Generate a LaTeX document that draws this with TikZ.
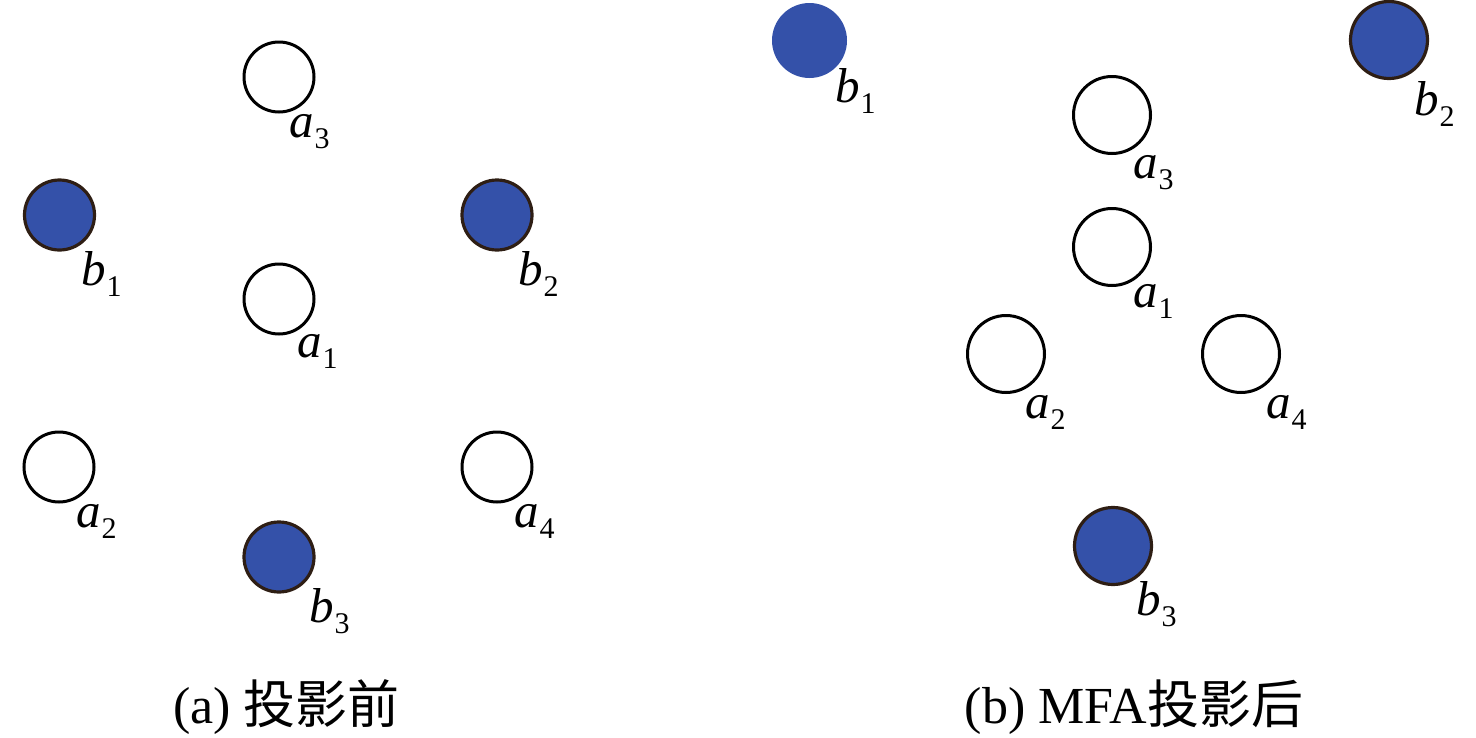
\documentclass[tikz,border=0pt]{standalone}
\usepackage{fontspec}
\setmainfont{Liberation Serif}
\newfontfamily\cjk{Noto Sans CJK SC}
\definecolor{dotblue}{HTML}{3451A9}
\definecolor{rimbrown}{HTML}{2E1E14}
\newcommand\ptlabel[2]{{\fontsize{49}{49}\selectfont\textit{#1}}\kern1pt\raisebox{-11pt}{\fontsize{30}{30}\selectfont #2}}
\tikzset{
  opensmall/.style={circle,draw=black,line width=3pt,fill=white,minimum size=70pt,inner sep=0pt},
  bluesmall/.style={circle,draw=rimbrown,line width=3.2pt,fill=dotblue,minimum size=70pt,inner sep=0pt},
  openbig/.style={circle,draw=black,line width=3pt,fill=white,minimum size=77pt,inner sep=0pt},
  bluebig/.style={circle,draw=rimbrown,line width=3.2pt,fill=dotblue,minimum size=77pt,inner sep=0pt},
  bluebare/.style={circle,fill=dotblue,minimum size=75pt,inner sep=0pt},
  ptlab/.style={anchor=base west,inner sep=0pt,outer sep=0pt},
  caption/.style={anchor=base,inner sep=0pt,font=\fontsize{52}{52}\selectfont}
}
\begin{document}
\begin{tikzpicture}[x=1pt,y=-1pt]
\useasboundingbox (0,0) rectangle (1476,737);
% ---------- panel (a) ----------
\node[opensmall] (La3) at (279,77) {};
\node[bluesmall] (Lb1) at (59.5,215) {};
\node[bluesmall] (Lb2) at (497,215) {};
\node[opensmall] (La1) at (279,299) {};
\node[opensmall] (La2) at (59,467) {};
\node[opensmall] (La4) at (497,467) {};
\node[bluesmall] (Lb3) at (279,557) {};
\node[ptlab] (La3t) at (289,137) {\ptlabel{a}{3}};
\node[ptlab] (Lb1t) at (81,285) {\ptlabel{b}{1}};
\node[ptlab] (Lb2t) at (518,285) {\ptlabel{b}{2}};
\node[ptlab] (La1t) at (297,357) {\ptlabel{a}{1}};
\node[ptlab] (La2t) at (76,527) {\ptlabel{a}{2}};
\node[ptlab] (La4t) at (514,527) {\ptlabel{a}{4}};
\node[ptlab] (Lb3t) at (309,622) {\ptlabel{b}{3}};
\node[caption] (capa) at (286.5,723) {(a) {\cjk 投影前}};
% ---------- panel (b) ----------
\node[bluebare] (Rb1) at (809.5,40.5) {};
\node[bluebig] (Rb2) at (1389,40) {};
\node[openbig] (Ra3) at (1112,115) {};
\node[openbig] (Ra1) at (1112,247) {};
\node[openbig] (Ra2) at (1006,354) {};
\node[openbig] (Ra4) at (1241,354) {};
\node[bluebig] (Rb3) at (1113,546) {};
\node[ptlab] (Rb1t) at (835,102) {\ptlabel{b}{1}};
\node[ptlab] (Rb2t) at (1414,115) {\ptlabel{b}{2}};
\node[ptlab] (Ra3t) at (1133,178) {\ptlabel{a}{3}};
\node[ptlab] (Ra1t) at (1133,307) {\ptlabel{a}{1}};
\node[ptlab] (Ra2t) at (1025,418) {\ptlabel{a}{2}};
\node[ptlab] (Ra4t) at (1266,418) {\ptlabel{a}{4}};
\node[ptlab] (Rb3t) at (1136,615) {\ptlabel{b}{3}};
\node[caption] (capb) at (1134,723) {(b) MFA{\cjk 投影后}};
\end{tikzpicture}
\end{document}
